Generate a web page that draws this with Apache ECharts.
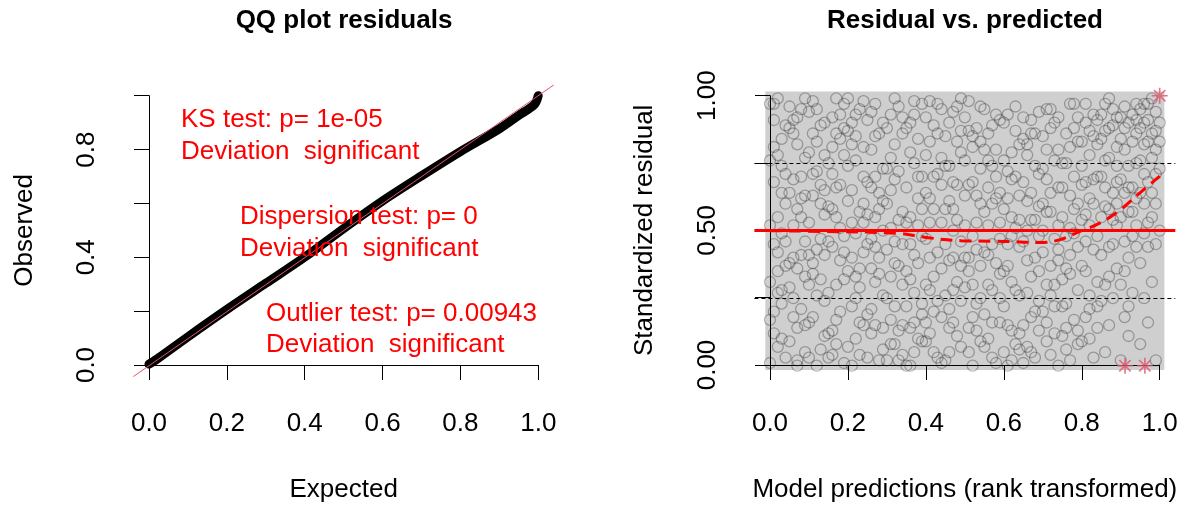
<!DOCTYPE html>
<html>
<head>
<meta charset="utf-8">
<script src="https://cdn.jsdelivr.net/npm/echarts@6/dist/echarts.min.js"></script>
<style>
html, body { margin: 0; padding: 0; background: #fff; }
#main { width: 1185px; height: 508px; }
</style>
</head>
<body>
<div id="main"></div>
<script>
// QQ plot residuals: expected vs observed quantiles
var qqExpected = [0, 0.02, 0.1, 0.2, 0.3, 0.4, 0.5, 0.6, 0.7, 0.8, 0.9, 0.95, 0.99, 1.0];
var qqObserved = [0.006, 0.024, 0.107, 0.208, 0.305, 0.402, 0.508, 0.61, 0.703, 0.793, 0.877, 0.927, 0.967, 1.0];
var qqRefLine = [[-0.04, -0.04], [1.04, 1.04]];
var qqYLabels = [0, 0.4, 0.8];
var qqTests = [
    'KS test: p= 1e-05', 'Deviation  significant',
    'Dispersion test: p= 0', 'Deviation  significant',
    'Outlier test: p= 0.00943', 'Deviation  significant'
];

// Residual vs. predicted: scaled residuals against rank transformed predictions
var residPointsA = [
 [.00,.97],[.01,.12],[.02,.55],[.00,.31],[.03,.84],[.01,.68],[.04,.03],[.02,.42],[.00,.76],[.03,.23],[.01,.91],[.04,.60],[.02,.07],[.03,.49],[.00,.17],[.04,.37],[.01,.81],[.02,.99],[.04,.71],[.03,.28],[.01,.45],[.00,.01],
 [.05,.88],[.07,.14],[.06,.52],[.09,.33],[.08,.95],[.05,.64],[.07,.02],[.06,.40],[.09,.77],[.08,.21],[.05,.09],[.07,.58],[.09,.46],[.06,.86],[.08,.70],[.05,.29],[.07,.36],[.09,.99],[.06,.18],[.08,.62],[.07,.92],[.09,.05],
 [.10,.94],[.12,.26],[.11,.63],[.14,.11],[.13,.47],[.10,.79],[.12,.00],[.14,.56],[.11,.34],[.13,.89],[.10,.16],[.12,.72],[.14,.41],[.11,.98],[.13,.06],[.10,.53],[.12,.83],[.14,.24],[.13,.67],[.11,.38],[.14,.90],[.10,.30],
 [.15,.75],[.17,.08],[.16,.44],[.19,.97],[.18,.20],[.15,.59],[.17,.86],[.19,.32],[.16,.13],[.18,.51],[.15,.03],[.17,.66],[.19,.78],[.16,.92],[.18,.39],[.15,.27],[.17,.55],[.19,.01],[.16,.71],[.18,.84],[.17,.17],[.19,.48],
 [.20,.61],[.22,.93],[.21,.22],[.24,.70],[.23,.04],[.20,.35],[.22,.49],[.24,.15],[.21,.82],[.23,.57],[.20,.99],[.22,.10],[.24,.42],[.21,.65],[.23,.29],[.20,.87],[.22,.76],[.24,.53],[.21,.00],[.23,.95],[.22,.33],[.24,.81],
 [.25,.19],[.27,.85],[.26,.47],[.29,.06],[.28,.64],[.25,.91],[.27,.31],[.29,.73],[.26,.12],[.28,.40],[.25,.56],[.27,.97],[.29,.26],[.26,.80],[.28,.02],[.25,.68],[.27,.44],[.29,.90],[.26,.36],[.28,.58],[.27,.15],[.29,.50],
 [.30,.43],[.32,.08],[.31,.77],[.34,.30],[.33,.96],[.30,.60],[.32,.22],[.34,.86],[.31,.51],[.33,.13],[.30,.02],[.32,.69],[.34,.45],[.31,.93],[.33,.37],[.30,.25],[.32,.82],[.34,.57],[.31,.17],[.33,.72],[.32,.99],[.34,.04],
 [.35,.66],[.37,.27],[.36,.90],[.39,.48],[.38,.10],[.35,.35],[.37,.75],[.39,.19],[.36,.55],[.38,.84],[.35,.00],[.37,.41],[.39,.97],[.36,.14],[.38,.62],[.35,.88],[.37,.05],[.39,.70],[.36,.32],[.38,.52],[.37,.93],[.39,.23],
 [.40,.09],[.42,.58],[.41,.83],[.44,.36],[.43,.71],[.40,.47],[.42,.20],[.44,.95],[.41,.28],[.43,.03],[.40,.64],[.42,.89],[.44,.53],[.41,.12],[.43,.42],[.40,.78],[.42,.33],[.44,.67],[.41,.98],[.43,.24],[.40,.92],[.44,.01],
 [.45,.74],[.47,.16],[.46,.39],[.49,.87],[.48,.54],[.45,.26],[.47,.94],[.49,.07],[.46,.61],[.48,.31],[.45,.02],[.47,.50],[.49,.79],[.46,.90],[.48,.11],[.45,.45],[.47,.68],[.49,.37],[.46,.21],[.48,.83],[.47,.58],[.49,.99],
 [.50,.29],[.52,.81],[.51,.05],[.54,.60],[.53,.43],[.50,.92],[.52,.18],[.54,.73],[.51,.35],[.53,.88],[.50,.52],[.52,.00],[.54,.25],[.51,.67],[.53,.13],[.50,.76],[.52,.48],[.54,.96],[.51,.40],[.53,.63],[.52,.85],[.54,.09],
 [.55,.57],[.57,.03],[.56,.86],[.59,.34],[.58,.70],[.55,.19],[.57,.45],[.59,.91],[.56,.10],[.58,.62],[.55,.80],[.57,.28],[.59,.53],[.56,.41],[.58,.01],[.55,.95],[.57,.74],[.59,.16],[.56,.66],[.58,.38],[.57,.89],[.59,.47],
 [.60,.22],[.62,.69],[.61,.93],[.64,.44],[.63,.08],[.60,.58],[.62,.31],[.64,.82],[.61,.15],[.63,.51],[.60,.76],[.62,.02],[.64,.63],[.61,.37],[.63,.87],[.60,.05],[.62,.48],[.64,.26],[.61,.72],[.63,.96],[.62,.55],[.64,.12],
 [.65,.84],[.67,.33],[.66,.07],[.69,.59],[.68,.20],[.65,.46],[.67,.91],[.69,.71],[.66,.27],[.68,.54],[.65,.01],[.67,.64],[.69,.13],[.66,.78],[.68,.40],[.65,.68],[.67,.18],[.69,.94],[.66,.50],[.68,.86],[.67,.05],[.69,.35],
 [.70,.42],[.72,.88],[.71,.16],[.74,.66],[.73,.30],[.70,.73],[.72,.04],[.74,.52],[.71,.95],[.73,.22],[.70,.60],[.72,.37],[.74,.80],[.71,.09],[.73,.47],[.70,.85],[.72,.57],[.74,.00],[.71,.69],[.73,.90],[.72,.26],[.74,.39],
 [.75,.11],[.77,.63],[.76,.86],[.79,.28],[.78,.49],[.75,.75],[.77,.02],[.79,.92],[.76,.36],[.78,.17],[.75,.55],[.77,.81],[.79,.44],[.76,.06],[.78,.70],[.75,.32],[.77,.97],[.79,.60],[.76,.23],[.78,.88],[.77,.41],[.79,.13],
 [.80,.67],[.82,.21],[.81,.90],[.84,.48],[.83,.03],[.80,.37],[.82,.78],[.84,.14],[.81,.56],[.83,.85],[.80,.09],[.82,.62],[.84,.31],[.81,.97],[.83,.43],[.80,.74],[.82,.26],[.84,.91],[.81,.18],[.83,.69],[.82,.52],[.84,.82],
 [.85,.93],[.87,.58],[.86,.30],[.89,.81],[.88,.45],[.85,.70],[.87,.99],[.89,.36],[.86,.87],[.88,.64],[.85,.24],[.87,.77],[.89,.52],[.86,.05],[.88,.95],[.85,.41],[.87,.15],[.89,.68],[.86,.59],[.88,.89],[.87,.33],[.89,.74],
 [.90,.84],[.92,.40],[.91,.96],[.94,.62],[.93,.27],[.90,.55],[.92,.90],[.94,.75],[.91,.18],[.93,.48],[.90,.69],[.92,.11],[.94,.86],[.91,.35],[.93,.93],[.90,.02],[.92,.66],[.94,.44],[.91,.80],[.93,.57],[.92,.22],[.94,.97],
 [.95,.88],[.97,.53],[.96,.71],[.99,.94],[.98,.31],[.95,.64],[.97,.83],[.99,.45],[.96,.97],[.98,.77],[.95,.38],[.97,.91],[.99,.60],[.96,.25],[.98,.86],[.95,.08],[.97,.68],[.99,.80],[.96,.49],[.98,.99],[.97,.16],[1.0,.73],[1.0,.90],[.99,.02]
];
var residPointsB = [
 [.02,.35],[.03,.64],[.01,.20],[.04,.89],[.02,.78],[.00,.52],[.03,.10],[.01,.97],[.04,.46],[.02,.27],[.03,.74],
 [.06,.69],[.08,.41],[.05,.96],[.09,.15],[.07,.82],[.06,.25],[.08,.55],[.05,.38],[.09,.63],[.07,.00],[.06,.91],
 [.11,.18],[.13,.60],[.12,.43],[.14,.78],[.10,.03],[.11,.86],[.13,.32],[.12,.95],[.14,.65],[.10,.41],[.11,.71],
 [.16,.58],[.18,.93],[.15,.12],[.19,.42],[.17,.30],[.16,.81],[.18,.67],[.15,.46],[.19,.88],[.17,.99],[.16,.04],
 [.21,.40],[.23,.16],[.20,.74],[.24,.60],[.22,.85],[.21,.53],[.23,.36],[.20,.07],[.24,.98],[.22,.25],[.21,.90],
 [.26,.94],[.28,.34],[.25,.03],[.29,.61],[.27,.70],[.26,.21],[.28,.86],[.25,.45],[.29,.14],[.27,.55],[.26,.66],
 [.31,.33],[.33,.54],[.30,.88],[.34,.15],[.32,.46],[.31,.65],[.33,.02],[.30,.73],[.34,.92],[.32,.38],[.31,.08],
 [.36,.79],[.38,.38],[.35,.22],[.39,.58],[.37,.98],[.36,.45],[.38,.70],[.35,.53],[.39,.09],[.37,.16],[.36,.00],
 [.41,.53],[.43,.86],[.40,.30],[.44,.18],[.42,.70],[.41,.40],[.43,.97],[.40,.16],[.44,.77],[.42,.05],[.41,.62],
 [.46,.05],[.48,.67],[.45,.85],[.49,.24],[.47,.40],[.46,.74],[.48,.96],[.45,.58],[.49,.46],[.47,.28],[.46,.14],
 [.51,.87],[.53,.23],[.50,.63],[.54,.37],[.52,.68],[.51,.14],[.53,.53],[.50,.40],[.54,.83],[.52,.30],[.51,.98],
 [.56,.30],[.58,.80],[.55,.42],[.59,.64],[.57,.16],[.56,.52],[.58,.93],[.55,.07],[.59,.25],[.57,.60],[.56,.76],
 [.61,.62],[.63,.28],[.60,.90],[.64,.06],[.62,.79],[.61,.45],[.63,.70],[.60,.35],[.64,.54],[.62,.13],[.61,.00],
 [.66,.39],[.68,.74],[.65,.15],[.69,.48],[.67,.86],[.66,.61],[.68,.03],[.65,.92],[.69,.24],[.67,.54],[.66,.82],
 [.71,.80],[.73,.12],[.70,.50],[.74,.92],[.72,.64],[.71,.30],[.73,.76],[.70,.20],[.74,.43],[.72,.95],[.71,.57],
 [.76,.48],[.78,.97],[.75,.66],[.79,.08],[.77,.34],[.76,.75],[.78,.58],[.75,.22],[.79,.83],[.77,.51],[.76,.14],
 [.81,.35],[.83,.60],[.80,.83],[.84,.70],[.82,.10],[.81,.46],[.83,.93],[.80,.54],[.84,.22],[.82,.87],[.81,.68],
 [.86,.76],[.88,.54],[.85,.84],[.89,.92],[.87,.44],[.86,.66],[.88,.25],[.85,.55],[.89,.60],[.87,.88],[.86,.97],
 [.91,.64],[.93,.83],[.90,.92],[.94,.52],[.92,.74],[.91,.46],[.93,.66],[.90,.30],[.94,.91],[.92,.57],[.91,.88],
 [.96,.82],[.98,.64],[.95,.95],[.99,.71],[.97,.44],[.96,.90],[.98,.55],[.95,.76],[.99,.87],[.97,.97],[.96,.60],[1.0,.83],[1.0,.50]
];
// quantile regression (0.5) through the residuals, dashed red curve
var quantileX = [0, 0.14, 0.33, 0.40, 0.49, 0.57, 0.63, 0.69, 0.74, 0.79, 0.85, 0.90, 0.95, 1.0];
var quantileY = [0.5, 0.497, 0.49, 0.475, 0.463, 0.461, 0.459, 0.456, 0.465, 0.494, 0.531, 0.579, 0.641, 0.702];
var outlierX = [1.0, 0.911, 0.962];
var outlierY = [1.0, 0.0, 0.0];
var quantileLevels = [0.25, 0.5, 0.75];
var residYLabels = [0, 0.5, 1];

var font = "'Liberation Sans', Arial, sans-serif";
var black = '#000000';
var rRed = '#DF536B';

function hasValue(list, v) {
    for (var i = 0; i < list.length; i++) {
        if (Math.abs(list[i] - v) < 1e-9) return true;
    }
    return false;
}

function zip(a, b) {
    var out = [];
    for (var i = 0; i < a.length; i++) out.push([a[i], b[i]]);
    return out;
}

// hidden axes spanning the R plot region (data range widened by 4%)
function dataAxis(idx) {
    return { type: 'value', gridIndex: idx, min: -0.04, max: 1.04, show: false };
}

function visibleXAxis(idx, name, gap) {
    return {
        type: 'value', gridIndex: idx, min: 0, max: 1, interval: 0.2,
        position: 'bottom', offset: 12,
        name: name, nameLocation: 'middle', nameGap: gap,
        nameTextStyle: { fontSize: 26, color: black, fontFamily: font },
        axisLine: { show: true, lineStyle: { color: black, width: 1 } },
        axisTick: { show: true, length: 15, lineStyle: { color: black, width: 1 } },
        axisLabel: {
            fontSize: 26, color: black, fontFamily: font, margin: 34,
            formatter: function (v) { return v.toFixed(1); }
        },
        splitLine: { show: false }
    };
}

function visibleYAxis(idx, name, gap, step, labels, digits) {
    return {
        type: 'value', gridIndex: idx, min: 0, max: 1, interval: step,
        position: 'left', offset: 16,
        name: name, nameLocation: 'middle', nameGap: gap,
        nameTextStyle: { fontSize: 26, color: black, fontFamily: font },
        axisLine: { show: true, lineStyle: { color: black, width: 1 } },
        axisTick: { show: true, length: 15, lineStyle: { color: black, width: 1 } },
        axisLabel: {
            fontSize: 26, color: black, fontFamily: font, margin: 33, rotate: 90,
            formatter: function (v) { return hasValue(labels, v) ? v.toFixed(digits) : ''; }
        },
        splitLine: { show: false }
    };
}

var textLines = [];
var textPos = [[181, 120], [181, 152], [240, 217], [240, 249], [266, 314], [266, 345]];
for (var i = 0; i < qqTests.length; i++) {
    textLines.push({
        type: 'text', x: textPos[i][0], y: textPos[i][1], z: 10,
        style: { text: qqTests[i], fill: '#FF0000', font: '26px ' + font, verticalAlign: 'middle' }
    });
}

var circleStyle = { color: 'rgba(0,0,0,0)', borderColor: 'rgba(30,30,30,0.4)', borderWidth: 1.3 };

var myChart = echarts.init(document.getElementById('main'), null, { renderer: 'canvas' });
myChart.setOption({
    animation: false,
    backgroundColor: '#ffffff',
    title: [
        { text: 'QQ plot residuals', left: 339, top: 3, textAlign: 'center',
          textStyle: { fontSize: 26, fontWeight: 'bold', color: black, fontFamily: font } },
        { text: 'Residual vs. predicted', left: 960, top: 3, textAlign: 'center',
          textStyle: { fontSize: 26, fontWeight: 'bold', color: black, fontFamily: font } }
    ],
    grid: [
        { left: 133.4, top: 84.9, width: 420.4, height: 291.6 },
        { left: 149, top: 95.7, width: 389.3, height: 270 },
        { left: 754.4, top: 84.9, width: 420.9, height: 291.6 },
        { left: 770, top: 95.7, width: 389.7, height: 270 }
    ],
    xAxis: [
        dataAxis(0),
        visibleXAxis(1, 'Expected', 100),
        dataAxis(2),
        visibleXAxis(3, 'Model predictions (rank transformed)', 100)
    ],
    yAxis: [
        dataAxis(0),
        visibleYAxis(1, 'Observed', 95, 0.2, qqYLabels, 1),
        dataAxis(2),
        visibleYAxis(3, 'Standardized residual', 96, 0.25, residYLabels, 2)
    ],
    graphic: textLines,
    series: [
        {
            type: 'line', xAxisIndex: 0, yAxisIndex: 0, z: 2,
            data: zip(qqExpected, qqObserved),
            showSymbol: false, smooth: 0.3, silent: true,
            lineStyle: { color: black, width: 9, cap: 'round', join: 'round' }
        },
        {
            type: 'line', xAxisIndex: 0, yAxisIndex: 0, z: 3,
            data: qqRefLine, showSymbol: false, silent: true,
            lineStyle: { color: rRed, width: 1 }
        },
        {
            // overall tone of the dense residual cloud
            type: 'line', xAxisIndex: 2, yAxisIndex: 2, z: 1, data: [], silent: true,
            markArea: {
                silent: true,
                itemStyle: { color: 'rgba(0,0,0,0.19)' },
                data: [[{ coord: [-0.012, -0.016] }, { coord: [1.012, 1.016] }]]
            }
        },
        {
            type: 'scatter', xAxisIndex: 2, yAxisIndex: 2, z: 2,
            data: residPointsA, symbol: 'circle', symbolSize: 11, silent: true,
            itemStyle: circleStyle
        },
        {
            type: 'scatter', xAxisIndex: 2, yAxisIndex: 2, z: 2,
            data: residPointsB, symbol: 'circle', symbolSize: 11, silent: true,
            itemStyle: circleStyle
        },
        {
            type: 'line', xAxisIndex: 2, yAxisIndex: 2, z: 3, data: [], silent: true,
            markLine: {
                silent: true, symbol: ['none', 'none'], label: { show: false },
                data: [
                    { yAxis: quantileLevels[0], lineStyle: { color: black, width: 1, type: [4, 3] } },
                    { yAxis: quantileLevels[2], lineStyle: { color: black, width: 1, type: [4, 3] } },
                    { yAxis: quantileLevels[1], lineStyle: { color: '#FF0000', width: 3, type: 'solid' } }
                ]
            }
        },
        {
            type: 'line', xAxisIndex: 2, yAxisIndex: 2, z: 4,
            data: zip(quantileX, quantileY), smooth: 0.4, showSymbol: false, silent: true,
            lineStyle: { color: '#FF0000', width: 3, type: [12, 7] }
        },
        {
            type: 'scatter', xAxisIndex: 2, yAxisIndex: 2, z: 5,
            data: zip(outlierX, outlierY), silent: true,
            symbol: 'path://M8,0L8,16M0,8L16,8M2.3,2.3L13.7,13.7M2.3,13.7L13.7,2.3',
            symbolSize: 16,
            itemStyle: { color: 'none', borderColor: rRed, borderWidth: 1.6 }
        }
    ]
});
</script>
</body>
</html>
